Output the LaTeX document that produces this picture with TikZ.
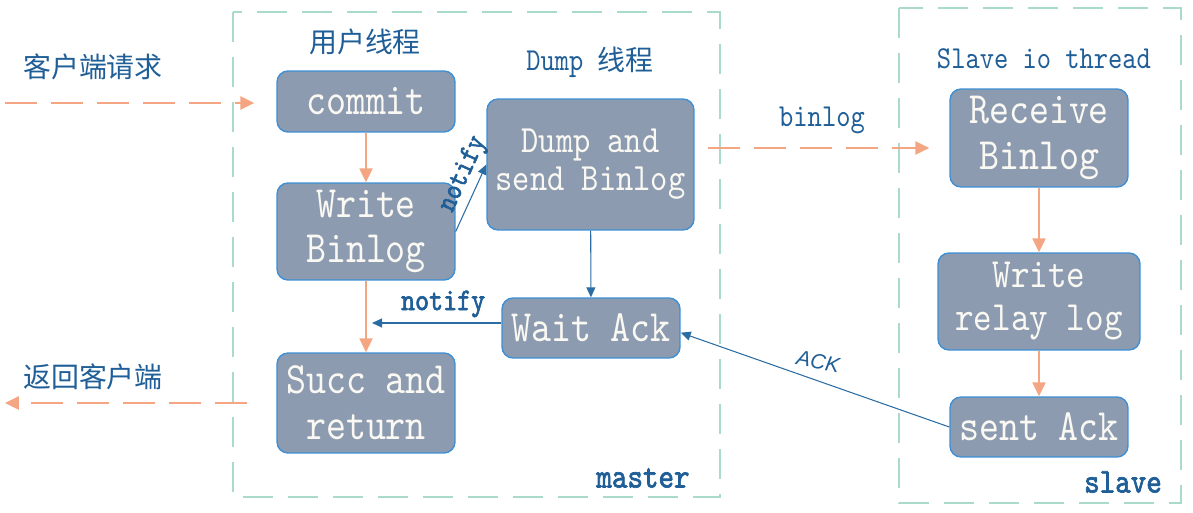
\documentclass[tikz,border=0pt]{standalone}
\usepackage{fontspec}
\setmonofont[Extension=.otf, FakeStretch=0.85]{lmmono10-regular}
\newfontfamily\ttbold[Extension=.otf, FakeStretch=0.85, FakeBold=2]{lmmono10-regular}
\setsansfont{Liberation Sans}
\newfontfamily\cjk{Noto Sans CJK SC}
\usepackage{tikz}
\usetikzlibrary{arrows.meta}
\definecolor{boxfill}{HTML}{8C9BB0}
\definecolor{boxline}{HTML}{3D8FD6}
\definecolor{boxtext}{HTML}{FAF8F2}
\definecolor{lbltext}{HTML}{1F5E96}
\definecolor{framecol}{HTML}{A9DACB}
\definecolor{flowcol}{HTML}{F4A582}
\definecolor{sigcol}{HTML}{2B6CA3}

\begin{document}
\begin{tikzpicture}[x=0.02cm, y=-0.02cm,
  box/.style={draw=boxline, line width=0.8pt, fill=boxfill, rounded corners=0.22cm, text=boxtext, align=center, inner sep=0pt, minimum width=3.56cm, font=\ttfamily\fontsize{25.5}{26}\selectfont},
  lbl/.style={text=lbltext, inner sep=0pt, font=\ttfamily\fontsize{18.2}{20}\selectfont},
  cn/.style={lbl, font=\cjk\fontsize{15.9}{18}\selectfont},
  frame/.style={draw=framecol, line width=0.6pt, dash pattern=on 0.6cm off 0.3cm},
  flow/.style={draw=flowcol, line width=1.2pt, -{Triangle[length=0.28cm,width=0.26cm]}},
  req/.style={flow, line width=1.6pt, dash pattern=on 0.64cm off 0.28cm},
  sig/.style={draw=sigcol, line width=0.6pt, -{Triangle[length=0.2cm,width=0.18cm]}}]
  \useasboundingbox (0,0) rectangle (1193,513);

  \draw[frame] (233,12) rectangle (720,497);
  \draw[frame] (899,8) rectangle (1181,503);

  \node[box, minimum height=1.22cm] (commit) at (366,101.5) {commit};
  \node[box, minimum height=1.94cm] (wbin) at (366,231.5) {Write\\Binlog};
  \node[box, minimum height=2cm] (succ) at (366,403) {Succ and\\return};
  \node[box, minimum width=4.14cm, minimum height=2.62cm, font=\ttfamily\fontsize{22}{21.5}\selectfont] (dump) at (590.5,164.5) {Dump and\\send Binlog};
  \node[box, minimum height=1.2cm] (wait) at (591,328) {Wait Ack};
  \node[box, minimum height=1.96cm] (recv) at (1039,138) {Receive\\Binlog};
  \node[box, minimum width=4.04cm, minimum height=1.94cm, font=\ttfamily\fontsize{23.7}{24.5}\selectfont] (relay) at (1039,301.5) {Write\\relay log};
  \node[box, minimum height=1.2cm] (sent) at (1039,427) {sent Ack};

  \node[cn] (userth) at (365,42) {用户线程};
  \node[lbl] (dumpth) at (590,62) {Dump {\cjk\fontsize{15.9}{18}\selectfont 线程}};
  \node[cn] (reqlbl) at (93,67) {客户端请求};
  \node[cn] (retlbl) at (93,377) {返回客户端};
  \node[lbl] (iolbl) at (1044,59) {Slave io thread};
  \node[lbl] (binlbl) at (822,120) {binlog};
  \node[lbl, font=\ttbold\fontsize{19.8}{20}\selectfont] (mlbl) at (643,478) {master};
  \node[lbl, font=\ttbold\fontsize{19.8}{20}\selectfont] (slbl) at (1123,482) {slave};

  \coordinate (reqin) at (5,103);
  \coordinate (retout) at (5,403);
  \coordinate (bl) at (0,148);
  \coordinate (nt) at (372,323);

  \draw[req, shorten >=0.44cm] (reqin) -- (reqin -| commit.west);
  \draw[req, shorten <=0.58cm] (succ.west) -- (retout);
  \draw[req, shorten <=0.26cm, shorten >=0.4cm] (dump.east |- bl) -- (recv.west |- bl);

  \draw[flow] (commit) -- (wbin);
  \draw[flow] (wbin) -- (succ);
  \draw[flow] (recv) -- (relay);
  \draw[flow] (relay) -- (sent);

  \draw[sig] (wbin.east) -- (dump.west)
    node[sloped, above, pos=0.75, inner sep=2pt, text=lbltext, font=\ttbold\fontsize{17}{18}\selectfont] {notify};
  \draw[sig] (dump) -- (wait);
  \draw[sig] (wait.west |- nt) -- (nt)
    node[above, pos=0.45, text=lbltext, inner sep=3pt, font=\ttbold\fontsize{17.9}{18}\selectfont] {notify};
  \draw[sig] (sent.west) -- (wait.-3)
    node[above, pos=0.5, rotate=-10, text=lbltext, inner sep=6pt, font=\sffamily\itshape\fontsize{12}{14}\selectfont] {ACK};
\end{tikzpicture}
\end{document}
